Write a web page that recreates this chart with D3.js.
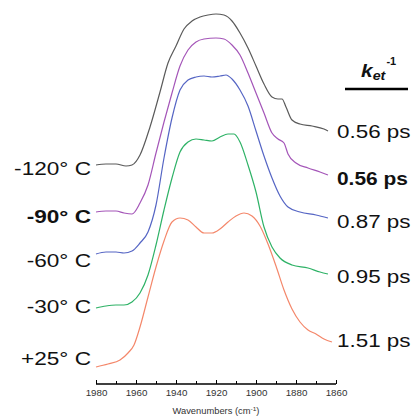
<!DOCTYPE html>
<html>
<head>
<meta charset="utf-8">
<script src="https://cdn.jsdelivr.net/npm/d3@7"></script>
<style>
  body { margin: 0; background: #fff; }
  text { font-family: "Liberation Sans", Arial, sans-serif; }
</style>
</head>
<body>
<svg id="svg"></svg>
<script>
var larghezza = 413;
var altezza = 420;

// wavenumbers (cm-1) for each trace, stacked absorbance (offset already in)
var wn120 = [1980,1975,1970,1965,1962,1958,1953,1948,1944,1940,1936,1932,1928,1924,1920,1916,1912,1908,1904,1900,1896,1892,1889,1887,1885,1882,1878,1872,1866,1864];
var ab120 = [2.19,2.20,2.20,2.18,2.19,2.29,2.57,2.92,3.21,3.38,3.55,3.63,3.67,3.69,3.70,3.69,3.63,3.51,3.36,3.18,3.00,2.87,2.85,2.85,2.77,2.64,2.60,2.58,2.55,2.53];

var wn90 = [1980,1975,1970,1966,1962,1958,1954,1950,1946,1942,1938,1934,1930,1926,1920,1916,1912,1908,1904,1900,1896,1892,1889,1886,1884,1880,1874,1868,1864];
var ab90 = [1.72,1.73,1.73,1.71,1.70,1.81,1.99,2.31,2.62,2.91,3.18,3.34,3.42,3.45,3.46,3.45,3.39,3.29,3.11,2.91,2.71,2.51,2.45,2.41,2.30,2.21,2.16,2.12,2.09];

var wn60 = [1980,1975,1970,1966,1962,1958,1954,1950,1946,1942,1938,1934,1930,1926,1922,1918,1915,1912,1908,1904,1900,1896,1892,1888,1884,1878,1870,1864];
var ab60 = [1.30,1.32,1.32,1.31,1.33,1.41,1.52,1.79,2.26,2.66,2.94,3.04,3.07,3.08,3.07,3.08,3.09,3.05,2.94,2.78,2.53,2.28,2.06,1.88,1.77,1.72,1.69,1.66];

var wn30 = [1980,1975,1970,1966,1962,1958,1954,1950,1946,1942,1938,1934,1930,1926,1922,1918,1914,1911,1908,1904,1900,1896,1892,1888,1882,1874,1868,1864];
var ab30 = [0.76,0.78,0.79,0.79,0.82,0.91,1.09,1.39,1.74,2.06,2.32,2.42,2.45,2.44,2.43,2.47,2.50,2.50,2.42,2.19,1.92,1.57,1.37,1.26,1.19,1.16,1.12,1.10];

var wn25 = [1980,1974,1968,1964,1961,1958,1954,1950,1946,1942,1938,1934,1930,1926,1922,1918,1914,1910,1906,1902,1898,1894,1890,1886,1882,1878,1874,1870,1866,1862];
var ab25 = [0.17,0.20,0.24,0.31,0.39,0.57,0.87,1.17,1.43,1.62,1.66,1.64,1.57,1.51,1.51,1.55,1.62,1.68,1.71,1.68,1.58,1.40,1.18,0.94,0.75,0.62,0.54,0.50,0.45,0.42];

var tempLabels = ["-120° C", "-90° C", "-60° C", "-30° C", "+25° C"];
var rateLabels = ["0.56 ps", "0.56 ps", "0.87 ps", "0.95 ps", "1.51 ps"];
var boldRow = 1;
var xTicks = [1980, 1960, 1940, 1920, 1900, 1880, 1860];

var colori = ["#5a5a5a", "#a455b8", "#5565c4", "#2eb266", "#f4876a"];
var tempY = [175, 223, 267, 313, 365];
var rateY = [138, 185, 228, 283, 347];
var stretch = 1.19; // text in the picture is a bit wide

function draw() {
    var svg = d3.select("#svg");
    svg.attr("width", larghezza).attr("height", altezza);

    var x = d3.scaleLinear().domain([1980, 1860]).range([96, 336]);
    var y = d3.scaleLinear().domain([0, 3.84]).range([384, 0]);

    var serie = [[wn120, ab120], [wn90, ab90], [wn60, ab60], [wn30, ab30], [wn25, ab25]];

    var line = d3.line()
        .x(function (d) { return x(d[0]); })
        .y(function (d) { return y(d[1]); })
        .curve(d3.curveMonotoneX);

    serie.forEach(function (s, i) {
        var pts = s[0].map(function (w, j) { return [w, s[1][j]]; });
        svg.append("path")
            .attr("d", line(pts))
            .style("fill", "none")
            .style("stroke", colori[i])
            .style("stroke-width", "1.2px");
    });

    drawAxis(svg, x);
    drawLabels(svg);
}

function drawAxis(svg, x) {
    var axis = d3.axisBottom(x)
        .tickValues(d3.range(1980, 1859, -10))
        .tickSize(4)
        .tickFormat(function (d) { return xTicks.indexOf(d) >= 0 ? d : ""; });

    var g = svg.append("g").attr("transform", "translate(0,384)").call(axis);
    g.select(".domain").attr("d", "M96,0H336").style("stroke", "#000").style("stroke-width", "1.5px");
    g.selectAll(".tick line")
        .attr("y1", function (d) { return xTicks.indexOf(d) >= 0 ? -4 : -3; })
        .attr("y2", 0)
        .style("stroke", "#000");
    g.selectAll(".tick text")
        .attr("y", 6)
        .attr("transform", "scale(1.15,1)")
        .style("font-size", "8.5px")
        .style("font-family", "Liberation Sans, Arial, sans-serif")
        .style("fill", "#333");

    var tit = svg.append("text")
        .attr("text-anchor", "middle")
        .attr("transform", "translate(216,414) scale(1.1,1)")
        .style("font-size", "8.5px")
        .style("fill", "#333")
        .text("Wavenumbers (cm");
    tit.append("tspan").attr("dy", -3).style("font-size", "6px").text("-1");
    tit.append("tspan").attr("dy", 3).text(")");
}

function drawLabels(svg) {
    tempLabels.forEach(function (t, i) {
        svg.append("text")
            .attr("transform", "translate(91," + tempY[i] + ") scale(" + stretch + ",1)")
            .attr("text-anchor", "end")
            .style("font-size", "19px")
            .style("font-weight", i === boldRow ? "bold" : "normal")
            .style("fill", "#111")
            .text(t);
    });

    rateLabels.forEach(function (t, i) {
        svg.append("text")
            .attr("transform", "translate(337," + rateY[i] + ") scale(" + (i === boldRow ? 1.1 : 1.18) + ",1)")
            .style("font-size", "19px")
            .style("font-weight", i === boldRow ? "bold" : "normal")
            .style("fill", "#111")
            .text(t);
    });

    // k_et^-1 header
    var h = svg.append("text")
        .attr("transform", "translate(361,77) scale(1.1,1)")
        .style("font-size", "19px")
        .style("font-weight", "bold")
        .style("font-style", "italic")
        .style("fill", "#111")
        .text("k");
    h.append("tspan").attr("dy", 3).style("font-size", "13px").text("et");
    h.append("tspan").attr("dy", -15).attr("dx", 1).style("font-size", "10px").style("font-style", "normal").text("-1");

    svg.append("line")
        .attr("x1", 345).attr("x2", 408)
        .attr("y1", 89).attr("y2", 89)
        .style("stroke", "#000")
        .style("stroke-width", "2.5px");
}

draw();
</script>
</body>
</html>
